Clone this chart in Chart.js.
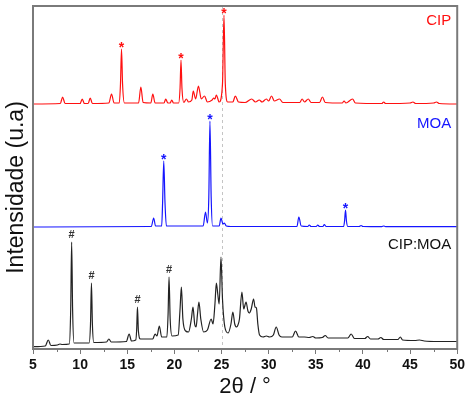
<!DOCTYPE html>
<html><head><meta charset="utf-8">
<script src="https://cdn.jsdelivr.net/npm/chart.js@4"></script>
<style>html,body{margin:0;padding:0;background:#fff;overflow:hidden}canvas{display:block}</style>
</head><body>
<canvas id="c" width="468" height="396"></canvas>
<script>
// ---- data (2θ, relative intensity) ----
const seriesNames = ['CIP', 'MOA', 'CIP:MOA'];
const seriesOffsets = [245, 122, 0];
const cipPattern = [[5,0],[7.9,0.5],[8.14,7],[8.4,0.5],[10.0,0.5],[10.22,5],[10.45,0.5],[10.85,0.5],[11.07,6],[11.3,0.5],
 [13.05,1],[13.33,10],[13.6,1],[14.15,1],[14.28,20],[14.39,55],[14.5,20],[14.7,1],[16.2,1],[16.44,17],[16.68,1.5],
 [17.5,1],[17.71,10],[17.95,1],[18.9,1],[19.08,5],[19.3,1],[19.55,1],[19.72,4],[19.9,1],[20.45,1],[20.6,16],[20.7,44],
 [20.8,16],[21.0,1.5],[21.27,5],[21.5,2],[21.85,4],[22.0,13],[22.25,5],[22.55,18],[22.85,5],[23.19,8],[23.5,2],[24.0,4],
 [24.17,6],[24.3,5],[24.45,9],[24.75,2],[25.1,20],[25.26,89],[25.4,20],[25.65,2],[26.2,2],[26.46,8],[26.8,2],[27.5,1.5],
 [28.2,5],[28.6,2],[29.0,4],[29.3,2],[29.75,5],[30.0,3],[30.3,8],[30.6,3],[31.15,5],[31.5,1.5],[33.3,1.5],[33.55,5],
 [33.8,2],[34.2,5],[34.5,1.5],[35.4,1.5],[35.7,7],[36.0,1.5],[37.8,1],[38.0,3],[38.2,1],[38.9,5],[39.2,1],[42.0,0.5],
 [42.2,2],[42.4,0.5],[45.0,1],[45.3,2],[45.6,0.5],[47.5,1],[47.8,2],[48.1,0.5],[50,0]];
const moaPattern = [[5,0],[17.55,0.5],[17.8,9],[18.0,1],[18.65,1],[18.75,25],[18.87,66],[19.0,25],[19.15,1],[23.05,1],
 [23.3,15],[23.5,4],[23.65,30],[23.77,106],[23.9,30],[24.05,1],[24.75,1],[24.94,9],[25.15,3],[25.3,4],[25.5,1],[26.0,0.5],
 [33.0,0.5],[33.2,10],[33.45,1],[34.15,0.5],[34.3,2],[34.5,0.5],[35.05,0.5],[35.2,2],[35.4,0.5],[35.75,0.5],[35.9,2.5],
 [36.1,0.5],[37.95,0.5],[38.05,6],[38.15,17],[38.25,6],[38.4,0.5],[39.6,0.5],[39.8,1.5],[40.0,0.5],[42.0,0.3],[42.2,1],
 [42.4,0.3],[50,0.3]];
const cocrystalPattern = [[5,2.3],[6.3,3],[6.62,9],[6.9,3.5],[7.6,4],[7.86,5],[8.1,4.5],[8.85,5],[9.0,40],[9.1,107],
 [9.2,40],[9.35,6],[10.95,6],[11.1,25],[11.2,66],[11.3,25],[11.45,6.5],[12.8,7],[13.05,10],[13.3,7],[14.9,7.5],[15.2,15],
 [15.45,8],[15.9,9],[16.0,20],[16.08,42],[16.18,18],[16.4,10],[17.7,10],[17.95,15],[18.15,13],[18.4,23],[18.65,12],
 [19.2,12],[19.33,35],[19.43,72],[19.55,30],[19.75,13],[20.4,14],[20.6,40],[20.74,62],[20.9,30],[21.2,18],[21.5,17],
 [21.8,30],[21.97,42],[22.15,25],[22.3,22],[22.45,35],[22.6,47],[22.8,30],[23.1,17],[23.5,19],[23.9,30],[24.1,25],
 [24.3,45],[24.45,66],[24.6,55],[24.75,45],[24.94,92],[25.1,50],[25.35,22],[25.7,16],[26.0,25],[26.2,37],[26.4,25],
 [26.6,22],[26.74,24],[26.9,30],[27.16,57],[27.35,40],[27.6,47],[27.8,38],[27.95,36],[28.15,40],[28.4,50],[28.55,42],
 [28.7,41],[28.85,25],[29.03,14],[29.4,12],[29.75,13],[30.1,12],[30.5,14],[30.8,22],[31.1,14],[31.4,12],[31.7,12],
 [32.5,12],[32.85,18],[33.2,12],[33.8,12],[34.3,11.5],[34.68,12.5],[35.0,11],[35.7,11.5],[36.0,13.5],[36.3,11],
 [37.15,11],[38.4,11],[38.75,15],[39.1,10.5],[40.2,10.5],[40.5,12.5],[40.8,10],[41.6,10],[41.9,11.5],[42.2,9.5],
 [43.7,9.5],[43.97,12],[44.2,9],[45.5,8.5],[46.0,9],[46.5,8],[48,7.5],[50,7.5]];
const cipStarPeaks = [14.39, 20.7, 25.26];
const moaStarPeaks = [18.87, 23.77, 38.15];
const hashPeaks = [9.1, 11.2, 16.08, 19.43];
const xTickValues = [5, 10, 15, 20, 25, 30, 35, 40, 45, 50];
const minorTickValues = [7.5, 12.5, 17.5, 22.5, 27.5, 32.5, 37.5, 42.5, 47.5];
const referenceAngle = 25;
const xTitle = '2θ / °';
const yTitle = 'Intensidade (u.a)';

// ---- styles ----
const colors = ['#ff1010', '#1515ff', '#222222'];
const patterns = [cipPattern, moaPattern, cocrystalPattern];
const datasets = patterns.map((p, i) => ({
  label: seriesNames[i],
  data: p.map(([x, y]) => ({x: x, y: y + seriesOffsets[i]})),
  borderColor: colors[i], borderWidth: 1.2, pointRadius: 0,
  cubicInterpolationMode: 'monotone',
  borderJoinStyle: 'round', fill: false
}));

function peakValue(ds, x) {
  const pt = datasets[ds].data.find(d => Math.abs(d.x - x) < 1e-6);
  return pt ? pt.y : 0;
}

const decor = {
  id: 'decor',
  beforeDatasetsDraw(chart) {
    const {ctx, chartArea: a, scales: {x}} = chart;
    const px = Math.round(x.getPixelForValue(referenceAngle)) + 0.5;
    ctx.save();
    ctx.strokeStyle = '#c4c4c4'; ctx.lineWidth = 1; ctx.setLineDash([3, 3]);
    ctx.beginPath(); ctx.moveTo(px, a.top); ctx.lineTo(px, a.bottom); ctx.stroke();
    ctx.restore();
  },
  afterDraw(chart) {
    const {ctx, chartArea: a, scales: {x, y}} = chart;
    ctx.save();
    // frame
    ctx.strokeStyle = '#7a7a7a'; ctx.lineWidth = 2;
    ctx.strokeRect(a.left, a.top, a.right - a.left, a.bottom - a.top);
    // minor ticks
    ctx.lineWidth = 1; ctx.strokeStyle = '#777';
    minorTickValues.forEach(v => {
      const px = Math.round(x.getPixelForValue(v)) + 0.5;
      ctx.beginPath(); ctx.moveTo(px, a.bottom); ctx.lineTo(px, a.bottom + 3); ctx.stroke();
    });
    // stars
    ctx.textAlign = 'center'; ctx.textBaseline = 'alphabetic';
    ctx.font = 'bold 14px "Liberation Sans", Arial, sans-serif';
    [[cipStarPeaks, 0], [moaStarPeaks, 1]].forEach(([peaks, ds]) => {
      ctx.fillStyle = colors[ds];
      peaks.forEach(p => {
        ctx.fillText('*', x.getPixelForValue(p), y.getPixelForValue(peakValue(ds, p)) + 3);
      });
    });
    ctx.fillStyle = '#333';
    ctx.font = 'bold 11px "Liberation Sans", Arial, sans-serif';
    hashPeaks.forEach(p => {
      ctx.fillText('#', x.getPixelForValue(p), y.getPixelForValue(peakValue(2, p)) - 4);
    });
    // series labels
    ctx.textAlign = 'right';
    ctx.font = '15px "Liberation Sans", Arial, sans-serif';
    const labelY = [324, 221, 100];
    seriesNames.forEach((n, i) => {
      ctx.fillStyle = i === 2 ? '#111' : colors[i];
      ctx.fillText(n, x.getPixelForValue(49.37), y.getPixelForValue(labelY[i]));
    });
    // axis titles
    ctx.fillStyle = '#111';
    ctx.textAlign = 'center';
    ctx.font = '22px "Liberation Sans", Arial, sans-serif';
    ctx.fillText(xTitle, (a.left + a.right) / 2, chart.height - 3);
    ctx.save();
    ctx.translate(22.7, (a.top + a.bottom) / 2 + 10);
    ctx.rotate(-Math.PI / 2);
    ctx.font = '23px "Liberation Sans", Arial, sans-serif';
    ctx.fillText(yTitle, 0, 0);
    ctx.restore();
    ctx.restore();
  }
};

new Chart(document.getElementById('c'), {
  type: 'line',
  data: {datasets},
  options: {
    responsive: false, animation: false, devicePixelRatio: 1,
    layout: {padding: {left: 33, right: 10, top: 6, bottom: 0}},
    plugins: {legend: {display: false}, tooltip: {enabled: false}},
    scales: {
      x: {
        type: 'linear', min: 5, max: 50,
        afterFit: s => { s.height = 47; },
        afterBuildTicks: s => { s.ticks = xTickValues.map(v => ({value: v})); },
        ticks: {stepSize: 5, autoSkip: false, maxRotation: 0, padding: 3, color: '#111',
          font: {family: '"Liberation Sans", Arial, sans-serif', size: 14, weight: 'bold'}},
        grid: {drawOnChartArea: false, drawTicks: true, tickLength: 5, tickColor: '#777', tickWidth: 1},
        border: {display: false},
        title: {display: false}
      },
      y: {type: 'linear', min: 0, max: 343, display: false}
    }
  },
  plugins: [decor]
});
</script>
</body></html>
